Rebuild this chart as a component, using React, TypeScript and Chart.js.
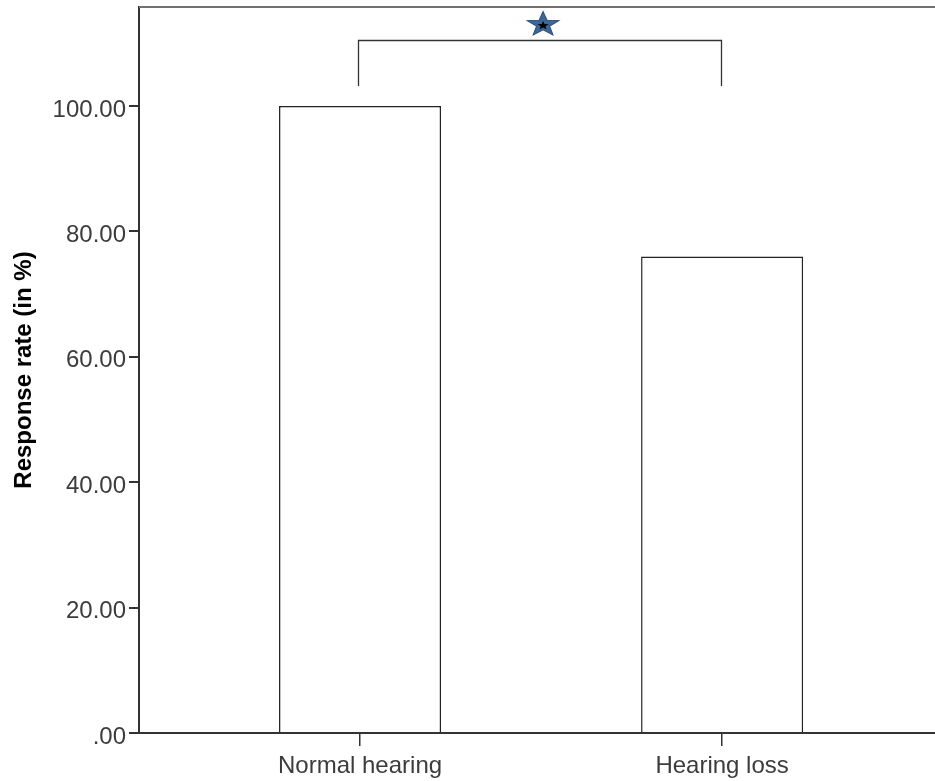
import React, { useEffect, useRef } from 'react';
import { Chart, registerables } from 'chart.js';

Chart.register(...registerables);

// ---- data ----
const categories = ['Normal hearing', 'Hearing loss'];
const responseRates = [100, 76];
const yTickValues = [0, 20, 40, 60, 80, 100];
const yAxisMax = 115.8;
const xAxisMin = -0.6105;
const xAxisMax = 1.588;
const axisTitle = 'Response rate (in %)';
// significance bracket between the two groups
const bracketFrom = 0;
const bracketTo = 1;
const bracketTopValue = 110.5;
const bracketBottomValue = 103.2;
const starValue = 113.0;

const SANS = '"Liberation Sans", Arial, sans-serif';

function starPath(ctx: CanvasRenderingContext2D, cx: number, cy: number, R: number, r: number) {
  ctx.beginPath();
  for (let i = 0; i < 10; i++) {
    const ang = -Math.PI / 2 + (i * Math.PI) / 5;
    const rad = i % 2 === 0 ? R : r;
    const px = cx + Math.cos(ang) * rad;
    const py = cy + Math.sin(ang) * rad;
    if (i === 0) ctx.moveTo(px, py);
    else ctx.lineTo(px, py);
  }
  ctx.closePath();
}

const sigPlugin = {
  id: 'sigPlugin',
  afterDraw(chart: any) {
    const { ctx, chartArea } = chart;
    const x = chart.scales.x;
    const y = chart.scales.y;
    ctx.save();
    // top frame line
    ctx.strokeStyle = '#707070';
    ctx.lineWidth = 2;
    ctx.beginPath();
    ctx.moveTo(chartArea.left, chartArea.top);
    ctx.lineTo(chartArea.right, chartArea.top);
    ctx.stroke();
    // bracket
    const x1 = Math.round(x.getPixelForValue(bracketFrom)) - 1.5;
    const x2 = Math.round(x.getPixelForValue(bracketTo)) - 0.5;
    const yt = Math.round(y.getPixelForValue(bracketTopValue)) + 0.5;
    const yb = y.getPixelForValue(bracketBottomValue);
    ctx.strokeStyle = '#333';
    ctx.lineWidth = 1.3;
    ctx.beginPath();
    ctx.moveTo(x1, yb);
    ctx.lineTo(x1, yt);
    ctx.lineTo(x2, yt);
    ctx.lineTo(x2, yb);
    ctx.stroke();
    // star
    const sx = (x.getPixelForValue(bracketFrom) + x.getPixelForValue(bracketTo)) / 2 + 2;
    const sy = y.getPixelForValue(starValue);
    ctx.translate(sx, sy);
    ctx.scale(1.3, 1);
    starPath(ctx, 0, 0, 13, 5.3);
    ctx.fillStyle = '#3c6796';
    ctx.fill();
    ctx.strokeStyle = '#2c4f78';
    ctx.lineWidth = 0.8;
    ctx.stroke();
    starPath(ctx, 0, 1, 4.5, 1.9);
    ctx.fillStyle = '#000';
    ctx.fill();
    ctx.restore();
  },
};

export default function App() {
  const ref = useRef<HTMLCanvasElement | null>(null);

  useEffect(() => {
    if (!ref.current) return;
    const chart = new Chart(ref.current, {
      type: 'bar',
      data: {
        datasets: [
          {
            data: responseRates.map((v, i) => ({ x: i, y: v })),
            backgroundColor: '#ffffff',
            borderColor: '#222222',
            borderWidth: 1.5,
            barPercentage: 0.4475,
            categoryPercentage: 1,
          },
        ],
      },
      options: {
        responsive: false,
        animation: false,
        devicePixelRatio: 1,
        layout: { padding: { top: 7, right: 0, bottom: 0, left: 0 } },
        plugins: { legend: { display: false }, tooltip: { enabled: false } },
        scales: {
          x: {
            type: 'linear',
            offset: false,
            min: xAxisMin,
            max: xAxisMax,
            afterBuildTicks: (scale: any) => {
              scale.ticks = categories.map((_, i) => ({ value: i }));
            },
            afterFit: (scale: any) => {
              scale.height = 48;
              scale.paddingLeft = 0;
              scale.paddingRight = 0;
            },
            grid: {
              offset: false,
              drawOnChartArea: false,
              drawTicks: true,
              tickLength: 13,
              color: '#333',
              lineWidth: 1.5,
            },
            border: { display: true, color: '#333', width: 2 },
            ticks: {
              autoSkip: false,
              maxRotation: 0,
              padding: 6,
              color: '#3c3c3c',
              font: { family: SANS, size: 24 },
              callback: (v: any) => categories[v] ?? '',
            },
          },
          y: {
            min: 0,
            max: yAxisMax,
            afterBuildTicks: (scale: any) => {
              scale.ticks = yTickValues.map((v) => ({ value: v }));
            },
            afterFit: (scale: any) => {
              scale.width = 139;
              scale.paddingTop = 0;
              scale.paddingBottom = 0;
            },
            grid: {
              drawOnChartArea: false,
              drawTicks: true,
              tickLength: 10,
              color: '#333',
              lineWidth: 2,
            },
            border: { display: true, color: '#333', width: 2 },
            ticks: {
              padding: 3,
              labelOffset: 4,
              color: '#3c3c3c',
              font: { family: SANS, size: 24 },
              callback: (v: any) => (Number(v) === 0 ? '.00' : Number(v).toFixed(2)),
            },
            title: {
              display: true,
              text: axisTitle,
              color: '#000',
              padding: { top: 10, bottom: 0 },
              font: { family: SANS, size: 24, weight: 'bold' },
            },
          },
        },
      },
      plugins: [sigPlugin],
    });
    return () => chart.destroy();
  }, []);

  return (
    <div style={{ position: 'fixed', left: 0, top: 0, width: 935, height: 781, overflow: 'hidden', background: '#fff' }}>
      <canvas ref={ref} width={935} height={781} style={{ display: 'block' }} />
    </div>
  );
}
